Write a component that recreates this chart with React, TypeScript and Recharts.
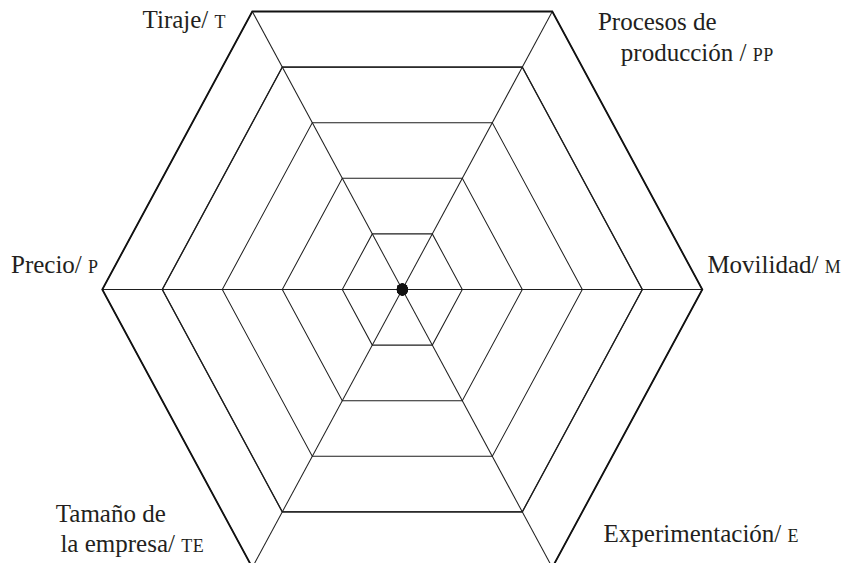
import React from 'react';
import { RadarChart, Radar, PolarGrid, PolarAngleAxis, PolarRadiusAxis } from 'recharts';

// ---- data ----
const categories = ['Tiraje', 'Procesos de producción', 'Movilidad', 'Experimentación', 'Tamaño de la empresa', 'Precio'];
const labelLines = [['Tiraje/'], ['Procesos de', 'producción /'], ['Movilidad/'], ['Experimentación/'], ['Tamaño de', 'la empresa/'], ['Precio/']];
const abbreviations = ['T', 'PP', 'M', 'E', 'TE', 'P'];
const values = [0, 0, 0, 0, 0, 0];
const radiusDomain = [0, 5];
const radiusTickCount = 6;

const data = categories.map((c, i) => ({ axis: c, value: values[i] }));

// ---- layout / style ----
const W = 851;
const H = 563;
const CX = 402.3;
const CY = 289.5;
const OUTER_R = 300;
const STRETCH = 1.07;
const FONT = 'Liberation Serif';
const INK = '#231f20';

// per-line label offsets (screen px) from the tick anchor point
const labelOffsets: number[][][] = [
  [[-64, 24]],
  [[101, 26], [141, 57]],
  [[64, -16.5]],
  [[145, -33]],
  [[-137.5, -53], [-116, -23]],
  [[-39.5, -16.5]],
];

const AxisTick = (props: any) => {
  const { x, y, payload } = props;
  let index = typeof props.index === 'number' ? props.index : categories.indexOf(payload?.value);
  if (index < 0) index = categories.indexOf(payload?.value);
  const lines = labelLines[index] || [];
  const offs = labelOffsets[index] || [];
  return (
    <g transform={`translate(${x},${y}) scale(1,${1 / STRETCH})`}>
      {lines.map((line, j) => (
        <text
          key={j}
          x={offs[j][0]}
          y={offs[j][1]}
          textAnchor="middle"
          fontFamily={FONT}
          fontSize={25}
          fill={INK}
        >
          {j === lines.length - 1 ? line + ' ' : line}
          {j === lines.length - 1 && (
            <tspan fontFamily={FONT} fontSize={18} letterSpacing={0.5}>{abbreviations[index]}</tspan>
          )}
        </text>
      ))}
    </g>
  );
};

export default function App() {
  return (
    <div
      style={{
        position: 'absolute',
        left: 0,
        top: 0,
        width: W,
        height: H,
        overflow: 'hidden',
        background: '#ffffff',
      }}
    >
      <div style={{ transform: `scaleY(${STRETCH})`, transformOrigin: `0px ${CY}px`, width: W, height: H }}>
        <RadarChart
          width={W}
          height={H}
          data={data}
          cx={CX}
          cy={CY}
          outerRadius={OUTER_R}
          startAngle={120}
          endAngle={-240}
          margin={{ top: 0, right: 0, bottom: 0, left: 0 }}
        >
          <PolarGrid gridType="polygon" stroke="#1e1e1e" strokeWidth={1} />
          <PolarGrid gridType="polygon" radialLines={false} polarRadius={[OUTER_R * 0.8]} stroke="#1e1e1e" strokeWidth={1.3} />
          <PolarGrid gridType="polygon" radialLines={false} polarRadius={[OUTER_R]} stroke="#111" strokeWidth={1.8} />
          <PolarRadiusAxis
            domain={radiusDomain}
            tickCount={radiusTickCount}
            angle={90}
            tick={false}
            axisLine={false}
          />
          <PolarAngleAxis dataKey="axis" tickLine={false} axisLine={false} tick={AxisTick} />
          <Radar
            dataKey="value"
            stroke="none"
            fill="none"
            dot={{ r: 5.5, fill: '#111', stroke: 'none', fillOpacity: 1 }}
            isAnimationActive={false}
          />
        </RadarChart>
      </div>
    </div>
  );
}
